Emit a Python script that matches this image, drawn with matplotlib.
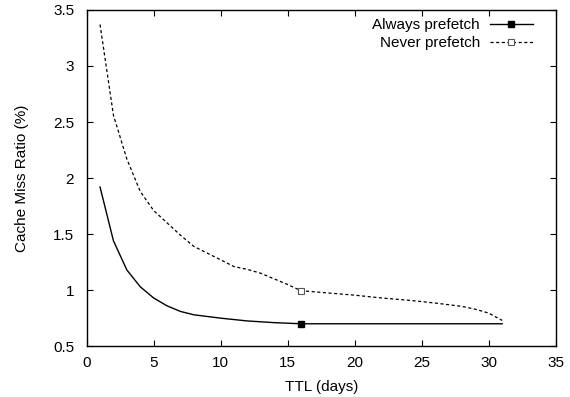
import matplotlib
matplotlib.use('Agg')
import matplotlib.pyplot as plt

# TTL (days) vs cache miss ratio (%)
ttl_always = [1, 2, 3, 4, 5, 6, 7, 8, 10, 12, 14, 16, 20, 25, 31]
miss_always = [1.92, 1.44, 1.18, 1.03, 0.93, 0.86, 0.81, 0.78, 0.75, 0.725, 0.71, 0.70, 0.70, 0.70, 0.70]

ttl_never = [1, 2, 3, 4, 5, 6, 7, 8, 9, 10, 11, 12, 13, 14, 15, 16, 18, 20, 22, 24, 26, 28, 29, 30, 31]
miss_never = [3.37, 2.56, 2.17, 1.88, 1.71, 1.60, 1.49, 1.39, 1.33, 1.27, 1.21, 1.185, 1.15, 1.10, 1.05, 0.995,
              0.975, 0.955, 0.93, 0.91, 0.885, 0.855, 0.83, 0.795, 0.73]

plt.rcParams['font.family'] = ['Liberation Sans', 'DejaVu Sans']
plt.rcParams['font.size'] = 11

fig = plt.figure(figsize=(5.7, 3.97), dpi=100)
ax = fig.add_axes([0.152, 0.128, 0.823, 0.847])

ax.plot(ttl_always, miss_always, color='black', lw=1.0, marker='s', ms=5,
        markevery=[ttl_always.index(16)], label='Always prefetch')
ax.plot(ttl_never, miss_never, color='black', lw=0.9, ls=(0, (2.5, 2)), marker='s', ms=4.5,
        mfc='white', mec='#555555', mew=0.8, markevery=[ttl_never.index(16)], label='Never prefetch')

ax.set_xlim(0, 35)
ax.set_ylim(0.5, 3.5)
ax.set_xticks(range(0, 36, 5))
ax.set_yticks([0.5, 1, 1.5, 2, 2.5, 3, 3.5])
ax.set_yticklabels(['0.5', '1', '1.5', '2', '2.5', '3', '3.5'])
ax.tick_params(direction='in', top=True, right=True, length=4, width=0.8)
ax.tick_params(axis='y', pad=9)
ax.tick_params(axis='x', pad=7)
for s in ax.spines.values():
    s.set_linewidth(1.0)

ax.set_xlabel('TTL (days)', labelpad=7)
ax.set_ylabel('Cache Miss Ratio (%)', labelpad=17)

ax.legend(loc='upper right', bbox_to_anchor=(0.951, 0.975), frameon=False, markerfirst=False,
          handlelength=2.8, handletextpad=0.65, labelspacing=0.25, borderaxespad=0,
          borderpad=0, fontsize=11)

fig.savefig('out.png', dpi=100)
